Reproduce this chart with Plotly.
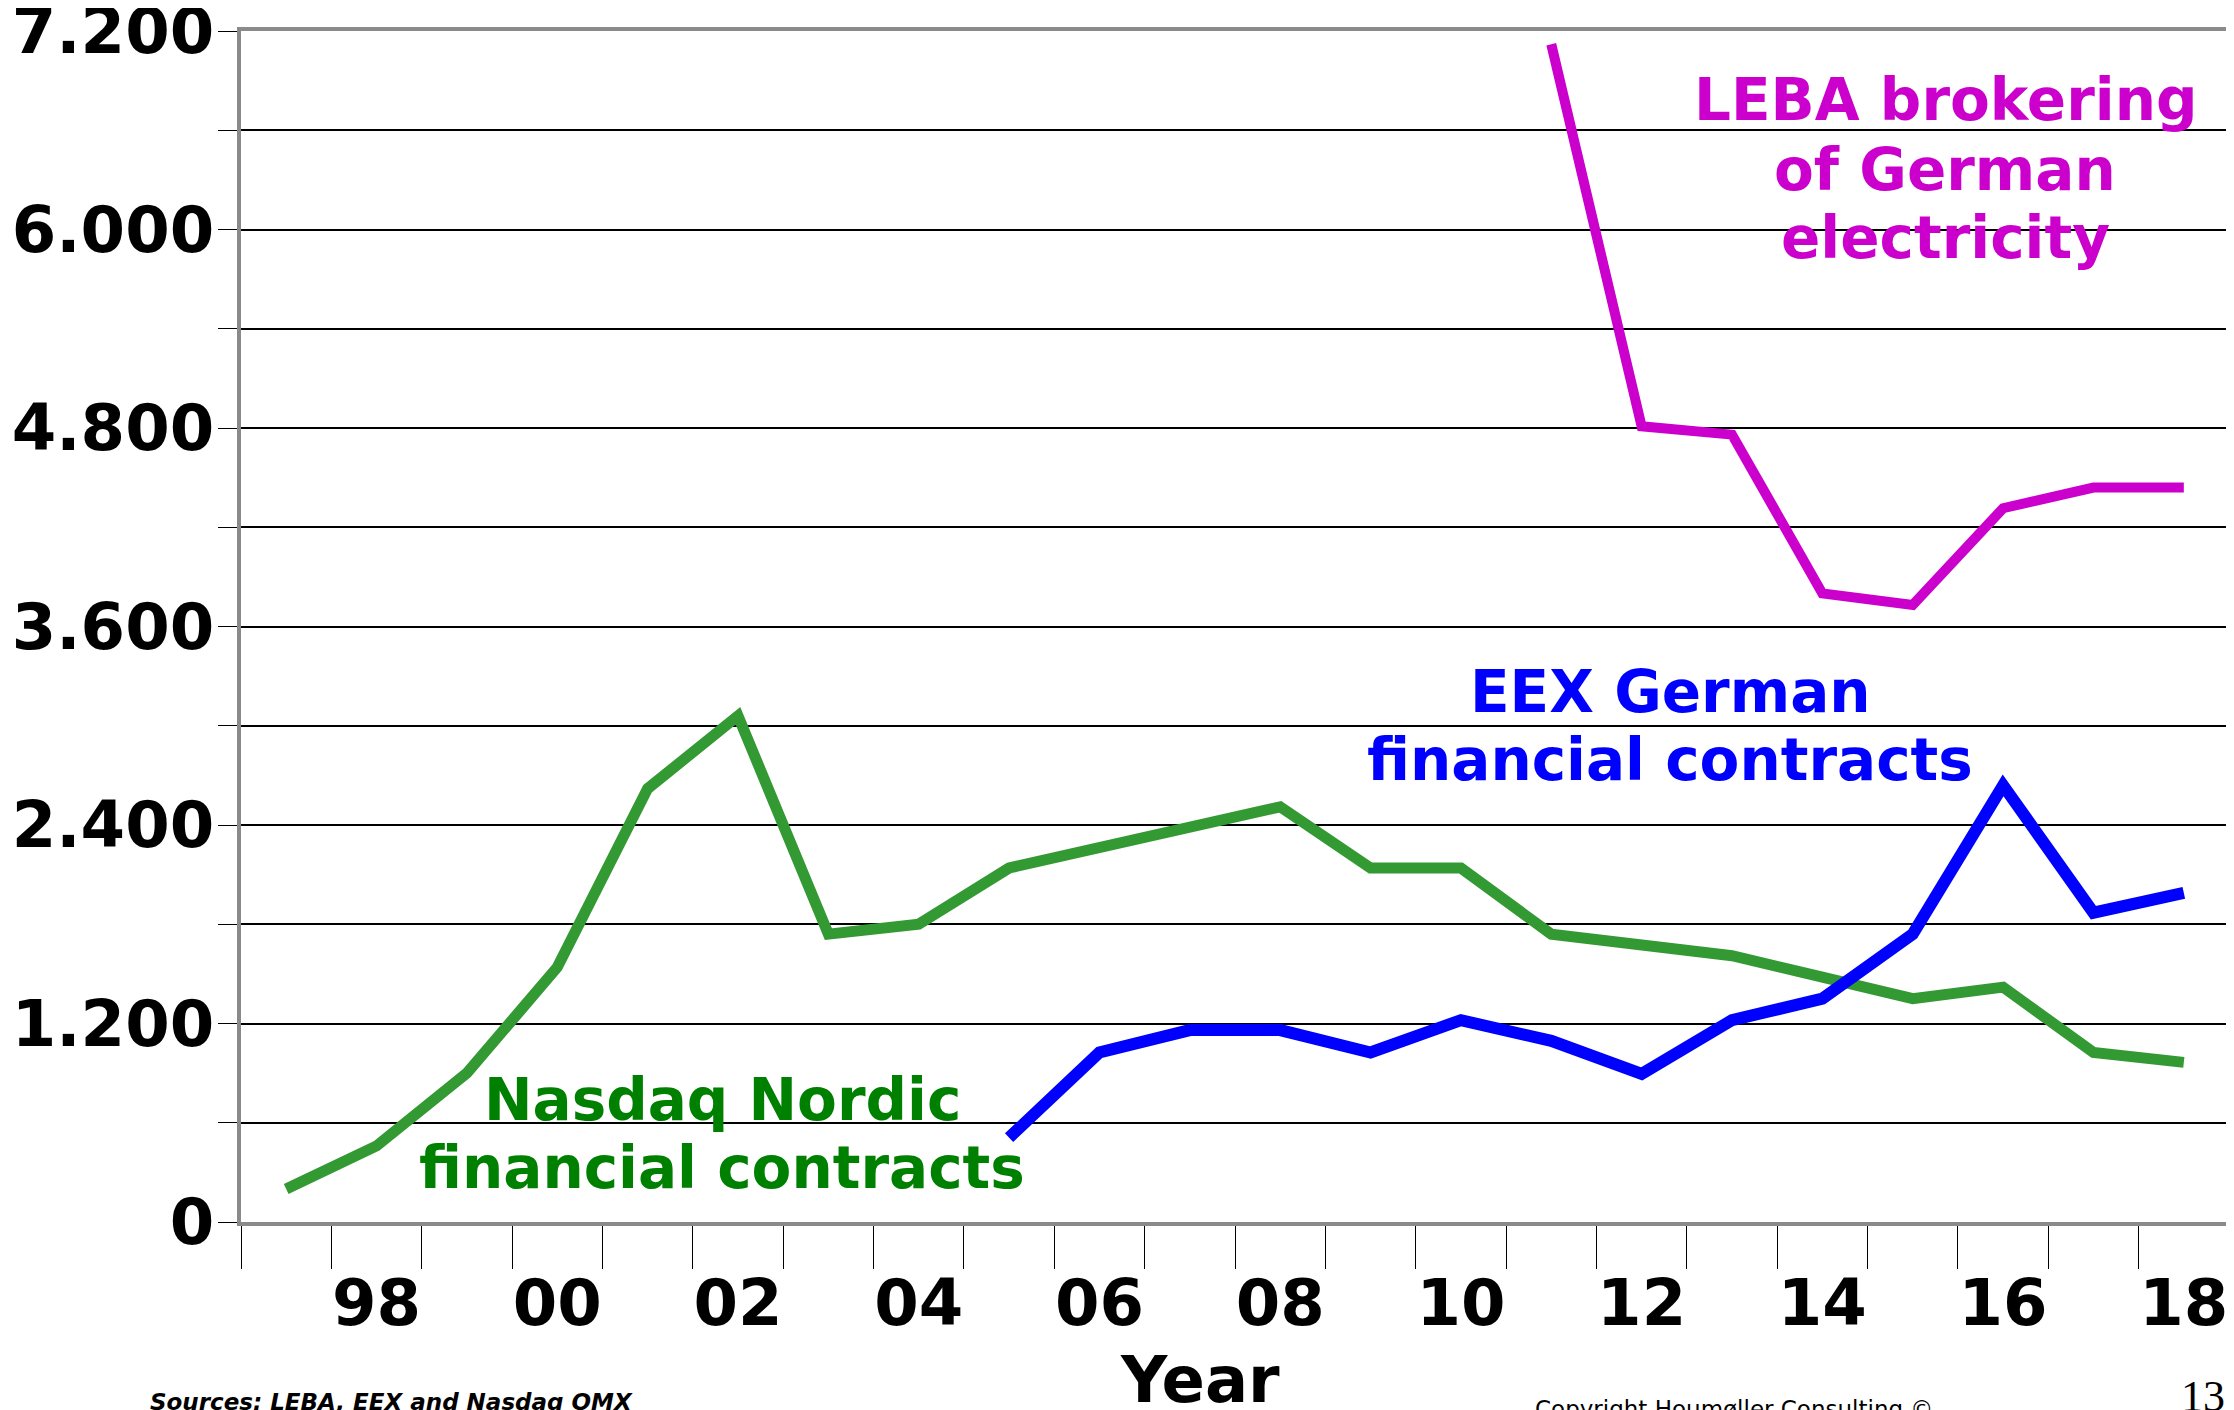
import plotly.graph_objects as go

# ---------------- data ----------------
YEARS = [str(y) for y in range(1997, 2019)]
X_TICK_TEXT = ["", "98", "", "00", "", "02", "", "04", "", "06", "", "08",
               "", "10", "", "12", "", "14", "", "16", "", "18"]

NASDAQ = [200, 460, 900, 1540, 2620, 3060, 1740, 1800, 2140, 2260, 2390, 2510,
          2140, 2140, 1740, 1670, 1610, 1480, 1350, 1420, 1025, 965]
EEX = [None] * 8 + [510, 1025, 1160, 1160, 1025, 1220, 1095, 895, 1220, 1350,
                    1740, 2640, 1870, 1990]
LEBA = [None] * 14 + [7120, 4810, 4760, 3800, 3730, 4315, 4440, 4440]

Y_TICK_VALS = [0, 600, 1200, 1800, 2400, 3000, 3600, 4200, 4800, 5400, 6000, 6600, 7200]
Y_TICK_TEXT = ["0", "", "1.200", "", "2.400", "", "3.600", "", "4.800", "", "6.000", "", "7.200"]

# ---------------- layout geometry ----------------
# the page body has an 8px margin, so the figure starts at screen (8, 8)
OFF = 8
SCREEN_W, SCREEN_H = 2234, 1410
W, H = SCREEN_W - OFF, SCREEN_H - OFF
# plot area in screen pixels
SX0, SX1, SY0, SY1 = 241, 2229, 31, 1222
L, R, T, B = SX0 - OFF, W - (SX1 - OFF), SY0 - OFF, H - (SY1 - OFF)
PW, PH = SX1 - SX0, SY1 - SY0


def px(sx):
    return (sx - SX0) / PW


def py(sy):
    return (SY1 - sy) / PH


FONT = "DejaVu Sans"
GREEN_LINE = "#339933"
GREEN_TEXT = "#008000"
BLUE = "#0000FF"
MAGENTA = "#CC00CC"

fig = go.Figure()
fig.add_trace(go.Scatter(x=YEARS, y=NASDAQ, mode="lines",
                         line=dict(color=GREEN_LINE, width=11), name="Nasdaq"))
fig.add_trace(go.Scatter(x=YEARS, y=EEX, mode="lines",
                         line=dict(color=BLUE, width=12), name="EEX"))
fig.add_trace(go.Scatter(x=YEARS, y=LEBA, mode="lines",
                         line=dict(color=MAGENTA, width=10), name="LEBA"))

# white boxes behind labels (cover gridlines, under the lines)
boxes = [(1673, 55, 2221, 295), (1347, 650, 1994, 800), (396, 1060, 1045, 1205)]
shapes = []
for x0, y0, x1, y1 in boxes:
    shapes.append(dict(type="rect", xref="paper", yref="paper",
                       x0=px(x0), x1=px(x1), y0=py(y1), y1=py(y0),
                       fillcolor="white", line=dict(width=0), layer="between"))

annotations = []


def label(text, cx, cy, color, size=58, weight="bold", style="normal",
          family=FONT, xanchor="center"):
    annotations.append(dict(text=text, x=px(cx), y=py(cy), xref="paper", yref="paper",
                            xanchor=xanchor, yanchor="middle", showarrow=False,
                            font=dict(family=family, size=size, color=color,
                                      weight=weight, style=style)))


label("LEBA brokering", 1945, 100, MAGENTA)
label("of German", 1945, 170, MAGENTA)
label("electricity", 1945, 238, MAGENTA)
label("EEX German", 1670, 692, BLUE)
label("financial contracts", 1670, 760, BLUE)
label("Nasdaq Nordic", 722, 1100, GREEN_TEXT)
label("financial contracts", 722, 1168, GREEN_TEXT)

label("Year", 1200, 1380, "black", size=64)
label("Sources: LEBA, EEX and Nasdaq OMX", 148, 1402, "black", size=23,
      style="italic", xanchor="left")
label("Copyright Houmøller Consulting ©", 1533, 1409, "black", size=23,
      weight="normal", xanchor="left")
label("13", 2179, 1396, "black", size=44, weight="normal",
      family="Liberation Serif", xanchor="left")

fig.update_layout(
    width=W, height=H, autosize=False,
    margin=dict(l=L, r=R, t=T, b=B, pad=0, autoexpand=False),
    paper_bgcolor="white", plot_bgcolor="white",
    showlegend=False,
    shapes=shapes, annotations=annotations,
    xaxis=dict(type="category", categoryorder="array", categoryarray=YEARS,
               tickvals=YEARS, ticktext=X_TICK_TEXT, tickson="boundaries",
               tickangle=0, automargin=False, ticklabelstandoff=22,
               ticks="outside", ticklen=43, tickwidth=1, tickcolor="black",
               showgrid=False, zeroline=False,
               showline=True, mirror=True, linecolor="#8a8a8a", linewidth=4,
               tickfont=dict(family=FONT, size=64, color="black", weight="bold"),
               range=[-0.5, 21.5], fixedrange=True),
    yaxis=dict(range=[0, 7200], tickvals=Y_TICK_VALS, ticktext=Y_TICK_TEXT,
               automargin=False, ticklabeloverflow="allow",
               ticks="outside", ticklen=19, tickwidth=1, tickcolor="black",
               showgrid=True, gridcolor="black", gridwidth=1.5, zeroline=False,
               showline=True, mirror=True, linecolor="#8a8a8a", linewidth=4,
               tickfont=dict(family=FONT, size=64, color="black", weight="bold"),
               ticklabelstandoff=-9, fixedrange=True),
)

fig.write_html("out.html")
